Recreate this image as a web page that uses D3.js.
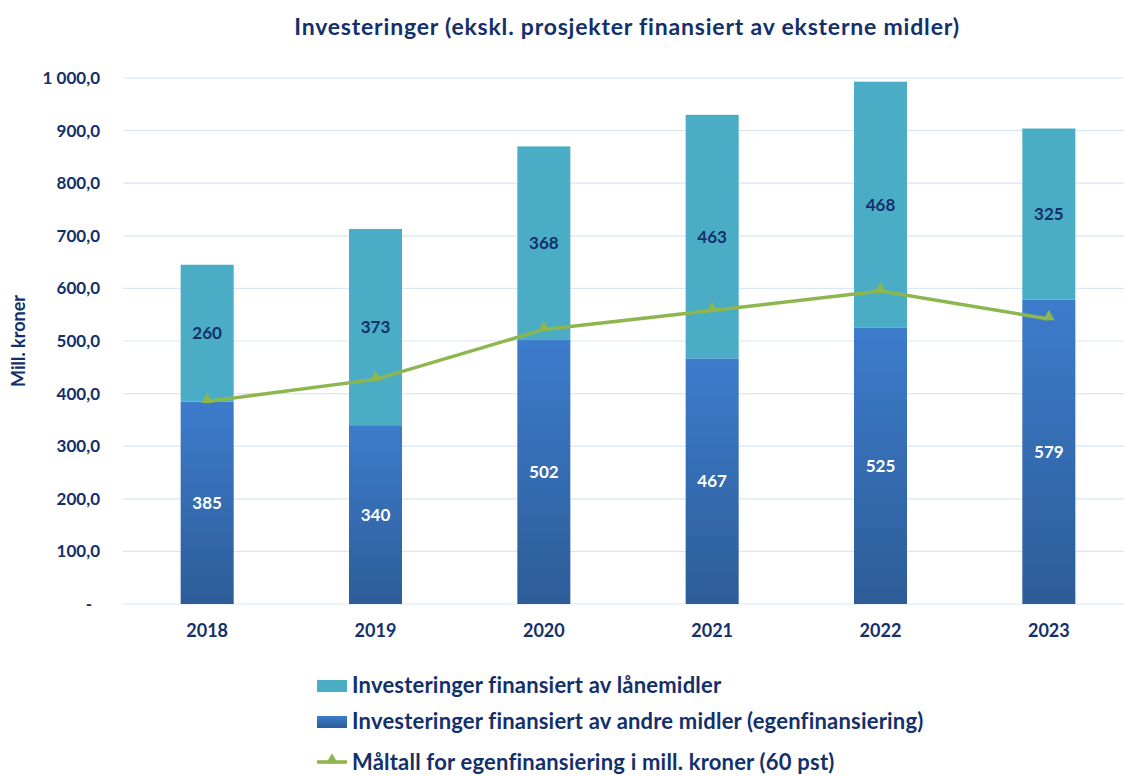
<!DOCTYPE html>
<html lang="no">
<head>
<meta charset="UTF-8">
<title>Investeringer</title>
<script src="https://d3js.org/d3.v7.min.js"></script>
<style>
  body { margin: 0; background: #fff; }
  text { font-family: Lato, "Open Sans", sans-serif; }
</style>
</head>
<body>
<div id="chart"></div>
<script>
// data
const years = ["2018", "2019", "2020", "2021", "2022", "2023"];
const egen = [385, 340, 502, 467, 525, 579];      // andre midler (egenfinansiering)
const laan = [260, 373, 368, 463, 468, 325];      // lånemidler
const maaltall = [385, 427, 522, 558, 595, 542];  // 60 pst
const yTicks = [0, 100, 200, 300, 400, 500, 600, 700, 800, 900, 1000];
const legendLabels = [
  "Investeringer finansiert av lånemidler",
  "Investeringer finansiert av andre midler (egenfinansiering)",
  "Måltall for egenfinansiering i mill. kroner (60 pst)"
];

const W = 1124, H = 776;
const navy = "#13306b", teal = "#4bacc6", green = "#8db64e";

const svg = d3.select("#chart").append("svg")
  .attr("width", W).attr("height", H);

const defs = svg.append("defs");
const grad = defs.append("linearGradient").attr("id", "blueGrad")
  .attr("x1", 0).attr("y1", 0).attr("x2", 0).attr("y2", 1);
grad.append("stop").attr("offset", "0%").attr("stop-color", "#3d7ccc");
grad.append("stop").attr("offset", "100%").attr("stop-color", "#2d5c98");

const x = d3.scaleBand().domain(years).range([123, 1133])
  .paddingInner(0.685).paddingOuter(0.3425);
const y = d3.scaleLinear().domain([0, 1000]).range([604, 78]);

// title
svg.append("text").attr("x", 627).attr("y", 35)
  .attr("text-anchor", "middle").attr("font-size", 23).attr("font-weight", "bold")
  .attr("letter-spacing", 0.8).attr("fill", navy)
  .text("Investeringer (ekskl. prosjekter finansiert av eksterne midler)");

// gridlines
svg.append("g").selectAll("line").data(yTicks).join("line")
  .attr("x1", 123).attr("x2", W)
  .attr("y1", d => y(d)).attr("y2", d => y(d))
  .attr("stroke", "#d9e6f6").attr("stroke-width", 1.2);

// y axis labels
const fmt = d => d === 0 ? "-" : d3.format(",.1f")(d).replace(",", " ").replace(".", ",");
svg.append("g").selectAll("text").data(yTicks).join("text")
  .attr("x", d => d === 0 ? 92 : 100).attr("y", d => y(d)).attr("dy", "0.35em")
  .attr("text-anchor", "end").attr("font-size", 17).attr("font-weight", "bold")
  .attr("fill", navy).text(fmt);

svg.append("text")
  .attr("transform", "translate(25,341) rotate(-90)")
  .attr("text-anchor", "middle").attr("font-size", 18).attr("font-weight", "bold")
  .attr("fill", navy).text("Mill. kroner");

// bars
const bars = svg.append("g");
years.forEach((yr, i) => {
  bars.append("rect")
    .attr("x", x(yr)).attr("width", x.bandwidth())
    .attr("y", y(egen[i])).attr("height", y(0) - y(egen[i]))
    .attr("fill", "url(#blueGrad)");
  bars.append("rect")
    .attr("x", x(yr)).attr("width", x.bandwidth())
    .attr("y", y(egen[i] + laan[i])).attr("height", y(egen[i]) - y(egen[i] + laan[i]))
    .attr("fill", teal);
  bars.append("text")
    .attr("x", x(yr) + x.bandwidth() / 2).attr("y", y(egen[i] / 2)).attr("dy", "0.35em")
    .attr("text-anchor", "middle").attr("font-size", 17).attr("font-weight", "bold")
    .attr("fill", "#fff").text(egen[i]);
  bars.append("text")
    .attr("x", x(yr) + x.bandwidth() / 2).attr("y", y(egen[i] + laan[i] / 2)).attr("dy", "0.35em")
    .attr("text-anchor", "middle").attr("font-size", 17).attr("font-weight", "bold")
    .attr("fill", navy).text(laan[i]);
});

// x labels
svg.append("g").selectAll("text").data(years).join("text")
  .attr("x", d => x(d) + x.bandwidth() / 2).attr("y", 631).attr("dy", "0.35em")
  .attr("text-anchor", "middle").attr("font-size", 18).attr("font-weight", "bold")
  .attr("fill", navy).text(d => d);

// target line
const line = d3.line()
  .x((d, i) => x(years[i]) + x.bandwidth() / 2)
  .y(d => y(d));
svg.append("path").datum(maaltall)
  .attr("d", line).attr("fill", "none")
  .attr("stroke", green).attr("stroke-width", 3.5);
const tri = d3.symbol().type(d3.symbolTriangle).size(60);
svg.append("g").selectAll("path").data(maaltall).join("path")
  .attr("transform", (d, i) => `translate(${x(years[i]) + x.bandwidth() / 2},${y(d) - 2})`)
  .attr("d", tri).attr("fill", green);

// legend
const lg = svg.append("g");
const rows = [685, 721, 762];
lg.append("rect").attr("x", 317).attr("y", rows[0] - 5).attr("width", 30).attr("height", 12).attr("fill", teal);
lg.append("rect").attr("x", 317).attr("y", rows[1] - 5).attr("width", 30).attr("height", 12).attr("fill", "url(#blueGrad)");
lg.append("line").attr("x1", 317).attr("x2", 347).attr("y1", rows[2]).attr("y2", rows[2])
  .attr("stroke", green).attr("stroke-width", 3.5);
lg.append("path").attr("transform", `translate(332,${rows[2] - 2})`).attr("d", tri).attr("fill", green);
lg.selectAll("text").data(legendLabels).join("text")
  .attr("x", 352).attr("y", (d, i) => rows[i]).attr("dy", "0.35em")
  .attr("font-size", 22).attr("font-weight", "bold").attr("letter-spacing", 0.2).attr("fill", navy)
  .text(d => d);
</script>
</body>
</html>
